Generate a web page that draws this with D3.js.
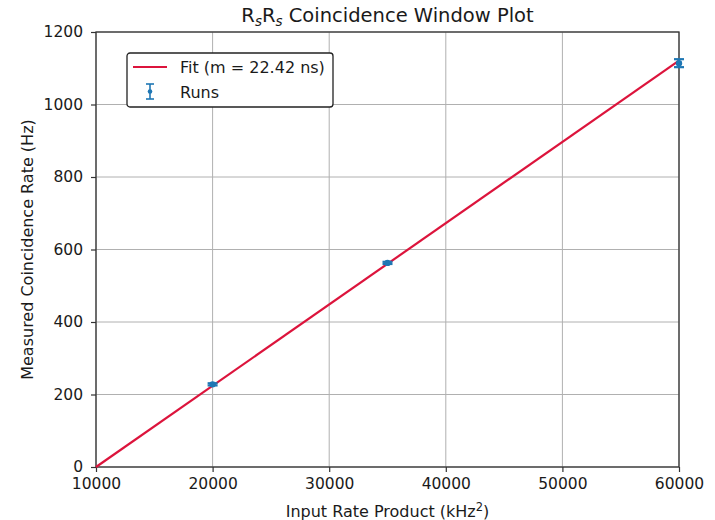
<!DOCTYPE html>
<html>
<head>
<meta charset="utf-8">
<script src="https://cdn.jsdelivr.net/npm/d3@7"></script>
<style>
  body { margin: 0; background: #fff; }
  svg { font-family: "DejaVu Sans", sans-serif; }
</style>
</head>
<body>
<svg id="chart" width="715" height="520"></svg>
<script>
// Measured runs: input rate product (kHz^2) vs coincidence rate (Hz)
const inputProduct = [20000, 35000, 60000];
const coincRate = [228, 563, 1114];
const coincErr = [3, 3, 11];

// Linear fit: slope in Hz per kHz^2 (22.42 ns), zero crossing at 10000 kHz^2
const fitSlopeNs = 22.42;
const fitX = [10000, 60000];
const fitY = fitX.map(x => fitSlopeNs * 1e-3 * (x - 10000));

const xTicks = [10000, 20000, 30000, 40000, 50000, 60000];
const yTicks = [0, 200, 400, 600, 800, 1000, 1200];

const margin = { top: 32, right: 36, bottom: 53, left: 96 };
const W = 715, H = 520;
const iw = W - margin.left - margin.right;
const ih = H - margin.top - margin.bottom;
const ink = "#1a1a1a";

const svg = d3.select("#chart");
const g = svg.append("g").attr("transform", `translate(${margin.left},${margin.top})`);

const x = d3.scaleLinear().domain([10000, 60000]).range([0, iw]);
const y = d3.scaleLinear().domain([0, 1200]).range([ih, 0]);

// grid
g.append("g").selectAll("line").data(xTicks).join("line")
  .attr("x1", d => x(d)).attr("x2", d => x(d)).attr("y1", 0).attr("y2", ih)
  .attr("stroke", "#b0b0b0").attr("stroke-width", 1);
g.append("g").selectAll("line").data(yTicks).join("line")
  .attr("y1", d => y(d)).attr("y2", d => y(d)).attr("x1", 0).attr("x2", iw)
  .attr("stroke", "#b0b0b0").attr("stroke-width", 1);

// axes
const xAxis = g.append("g").attr("transform", `translate(0,${ih})`)
  .call(d3.axisBottom(x).tickValues(xTicks).tickFormat(d3.format("d")).tickSize(5).tickPadding(8));
const yAxis = g.append("g")
  .call(d3.axisLeft(y).tickValues(yTicks).tickFormat(d3.format("d")).tickSize(5).tickPadding(8));
[xAxis, yAxis].forEach(a => {
  a.select(".domain").remove();
  a.selectAll("text").attr("font-size", 15.5).attr("fill", ink).attr("font-family", "DejaVu Sans");
  a.selectAll("line").attr("stroke", "#333").attr("stroke-width", 1.2);
});
xAxis.selectAll("text").attr("dy", "0.6em");

// frame
g.append("rect").attr("x", 0).attr("y", 0).attr("width", iw).attr("height", ih)
  .attr("fill", "none").attr("stroke", "#333").attr("stroke-width", 1.3);

// fit line
g.append("path")
  .datum(fitX.map((d, i) => [d, fitY[i]]))
  .attr("d", d3.line().x(d => x(d[0])).y(d => y(d[1])))
  .attr("fill", "none").attr("stroke", "#dc143c").attr("stroke-width", 2.2);

// error bars and points
const blue = "#1f77b4";
const pts = g.append("g").selectAll("g").data(inputProduct.map((d, i) => ({ x: d, y: coincRate[i], e: coincErr[i] }))).join("g");
pts.append("line")
  .attr("x1", d => x(d.x)).attr("x2", d => x(d.x))
  .attr("y1", d => y(d.y - d.e)).attr("y2", d => y(d.y + d.e))
  .attr("stroke", blue).attr("stroke-width", 1.8);
[-1, 1].forEach(s => {
  pts.append("line")
    .attr("x1", d => x(d.x) - 5).attr("x2", d => x(d.x) + 5)
    .attr("y1", d => y(d.y + s * d.e)).attr("y2", d => y(d.y + s * d.e))
    .attr("stroke", blue).attr("stroke-width", 2.2);
});
pts.append("circle")
  .attr("cx", d => x(d.x)).attr("cy", d => y(d.y)).attr("r", 3.2)
  .attr("fill", blue);

// title
const title = svg.append("text").attr("x", margin.left + iw / 2).attr("y", 22)
  .attr("text-anchor", "middle").attr("font-size", 19.5).attr("fill", ink);
title.append("tspan").text("R");
title.append("tspan").text("s").attr("font-size", 13.5).attr("dy", 4).attr("font-style", "italic");
title.append("tspan").text("R").attr("dy", -4);
title.append("tspan").text("s").attr("font-size", 13.5).attr("dy", 4).attr("font-style", "italic");
title.append("tspan").text(" Coincidence Window Plot").attr("dy", -4);

// axis labels
const xl = svg.append("text").attr("x", margin.left + iw / 2).attr("y", 517)
  .attr("text-anchor", "middle").attr("font-size", 16).attr("fill", ink);
xl.append("tspan").text("Input Rate Product (kHz");
xl.append("tspan").text("2").attr("font-size", 11.5).attr("dy", -6);
xl.append("tspan").text(")").attr("dy", 6);

svg.append("text")
  .attr("transform", `translate(33,${margin.top + ih / 2}) rotate(-90)`)
  .attr("text-anchor", "middle").attr("font-size", 16).attr("fill", ink)
  .text("Measured Coincidence Rate (Hz)");

// legend
const lg = svg.append("g").attr("transform", "translate(127,53)");
lg.append("rect").attr("width", 206).attr("height", 54).attr("rx", 3)
  .attr("fill", "#fff").attr("stroke", "#222").attr("stroke-width", 1.3);
lg.append("line").attr("x1", 6).attr("x2", 40).attr("y1", 14).attr("y2", 14)
  .attr("stroke", "#dc143c").attr("stroke-width", 2.2);
lg.append("text").attr("x", 53).attr("y", 20).attr("font-size", 16).attr("fill", ink)
  .text(`Fit (m = ${fitSlopeNs.toFixed(2)} ns)`);
lg.append("line").attr("x1", 23).attr("x2", 23).attr("y1", 31).attr("y2", 46)
  .attr("stroke", blue).attr("stroke-width", 1.6);
[31, 46].forEach(v => lg.append("line").attr("x1", 19).attr("x2", 27).attr("y1", v).attr("y2", v)
  .attr("stroke", blue).attr("stroke-width", 1.6));
lg.append("circle").attr("cx", 23).attr("cy", 38.5).attr("r", 2.3).attr("fill", blue);
lg.append("text").attr("x", 53).attr("y", 45).attr("font-size", 16).attr("fill", ink).text("Runs");
</script>
</body>
</html>
